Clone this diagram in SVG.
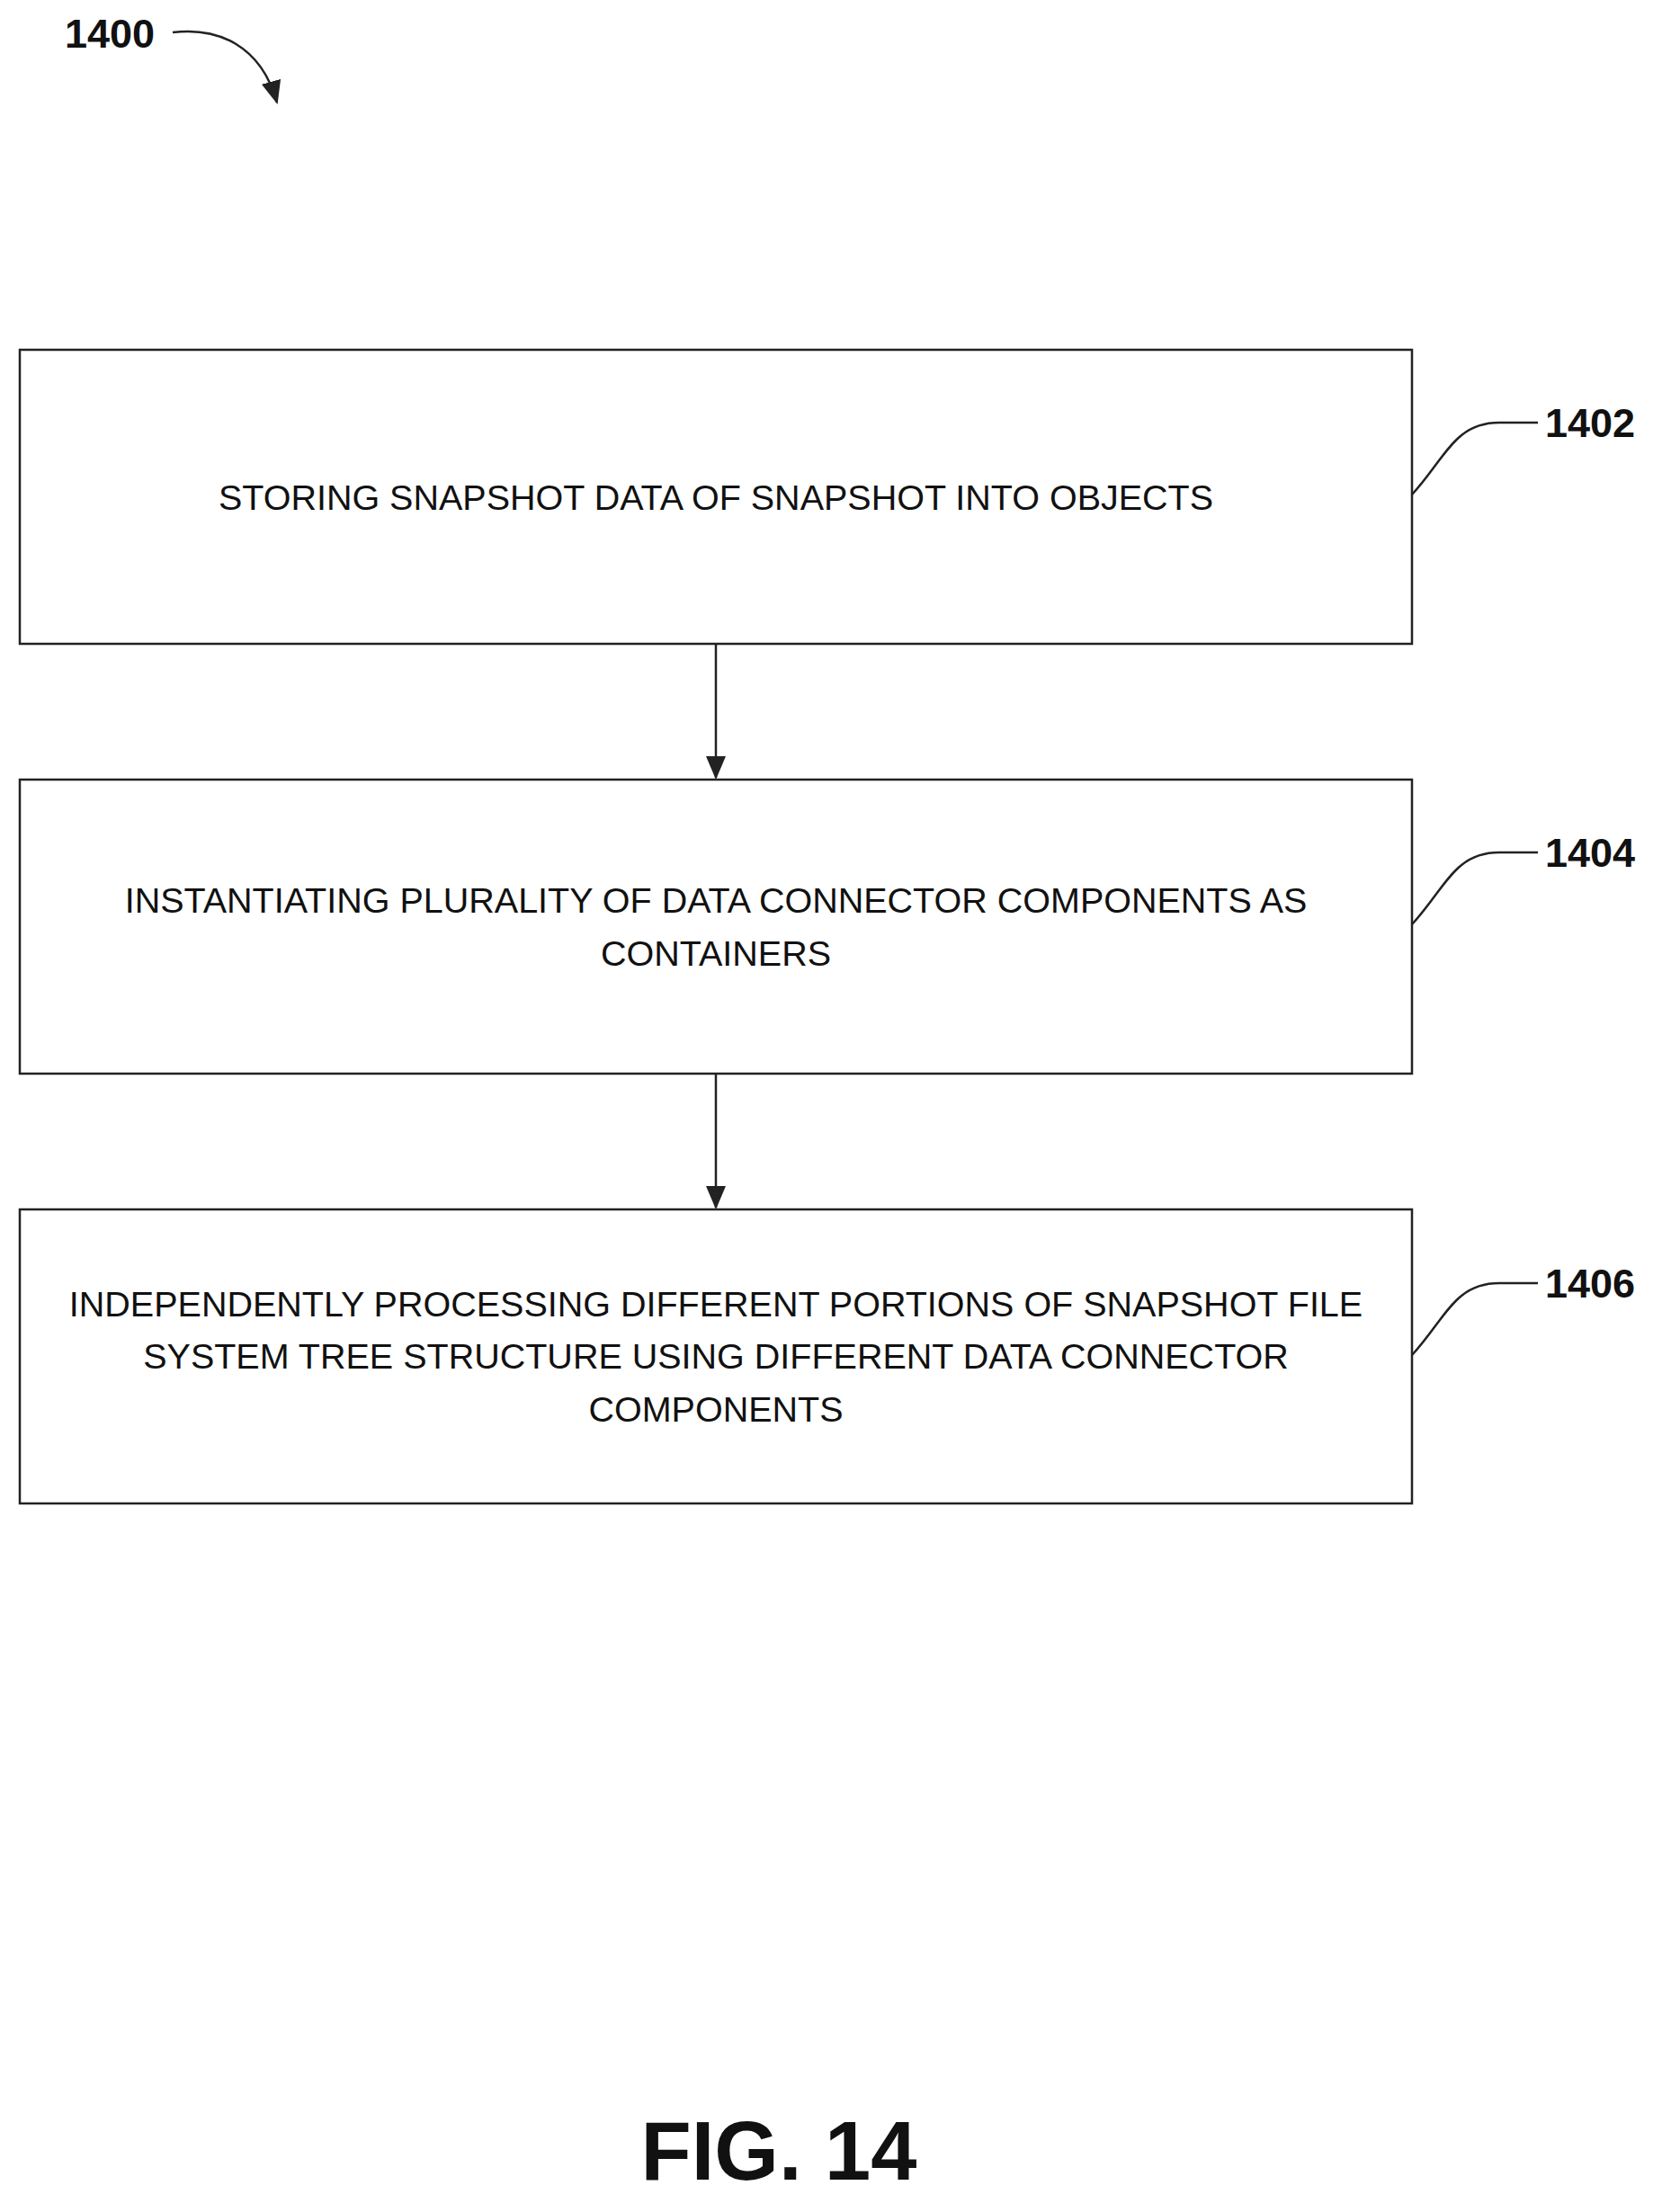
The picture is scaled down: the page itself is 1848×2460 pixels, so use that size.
<svg xmlns="http://www.w3.org/2000/svg" width="1848" height="2460" viewBox="0 0 1848 2460">
<style>
.box{fill:#fff;stroke:#222;stroke-width:2.5}
.t{font-family:"Liberation Sans",Arial,sans-serif;font-size:39.5px;fill:#111;text-anchor:middle}
.lbl{font-family:"Liberation Sans",Arial,sans-serif;font-size:45px;font-weight:bold;fill:#111}
.ln{fill:none;stroke:#222;stroke-width:2.5}
</style>
<defs><marker id="ah2" markerWidth="26" markerHeight="26" refX="24" refY="13" orient="auto" markerUnits="userSpaceOnUse" viewBox="0 0 26 26"><path d="M0,2 L26,13 L0,24 Z" fill="#222"/></marker></defs>
<rect width="1848" height="2460" fill="#fff"/>
<g id="n1400"><text class="lbl" x="72" y="53">1400</text><path class="ln" d="M192,36 C242,30 290,50 308,114" marker-end="url(#ah2)"/></g>
<g id="n1402"><rect class="box" x="22" y="389" width="1548" height="327"/><text class="t" x="796" y="567">STORING SNAPSHOT DATA OF SNAPSHOT INTO OBJECTS</text>
<path class="ln" d="M1570,550 C1607,510 1617,470 1667,470 L1710,470"/><text class="lbl" x="1718" y="486">1402</text></g>
<g id="n1404"><rect class="box" x="22" y="867" width="1548" height="327"/><text class="t" x="796" y="1015">INSTANTIATING PLURALITY OF DATA CONNECTOR COMPONENTS AS</text><text class="t" x="796" y="1074">CONTAINERS</text>
<path class="ln" d="M1570,1028 C1607,988 1617,948 1667,948 L1710,948"/><text class="lbl" x="1718" y="964">1404</text></g>
<g id="n1406"><rect class="box" x="22" y="1345" width="1548" height="327"/><text class="t" x="796" y="1464">INDEPENDENTLY PROCESSING DIFFERENT PORTIONS OF SNAPSHOT FILE</text><text class="t" x="796" y="1522">SYSTEM TREE STRUCTURE USING DIFFERENT DATA CONNECTOR</text><text class="t" x="796" y="1581">COMPONENTS</text>
<path class="ln" d="M1570,1507 C1607,1467 1617,1427 1667,1427 L1710,1427"/><text class="lbl" x="1718" y="1443">1406</text></g>
<g id="connectors"><line class="ln" x1="796" y1="716" x2="796" y2="865" marker-end="url(#ah2)"/><line class="ln" x1="796" y1="1194" x2="796" y2="1343" marker-end="url(#ah2)"/></g>
<text x="866" y="2424" style="font-family:'Liberation Sans',Arial,sans-serif;font-size:92px;font-weight:bold;text-anchor:middle;fill:#111">FIG. 14</text>
</svg>
